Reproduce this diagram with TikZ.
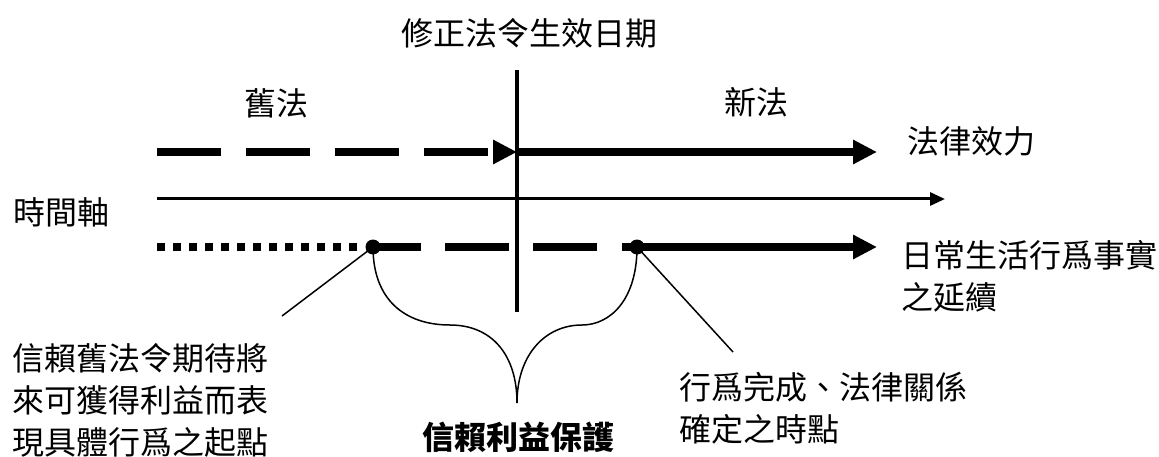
\documentclass[tikz,border=0pt]{standalone}
\usepackage{fontspec}
\newfontfamily\cjk{Noto Sans CJK TC}
\usetikzlibrary{arrows.meta}
\begin{document}
\begin{tikzpicture}[x=1pt,y=-1pt,
  lbl/.style={font=\cjk\fontsize{32}{42}\selectfont, inner sep=0pt},
  heavy/.style={line width=8pt},
  thinline/.style={line width=1.5pt},
  bigtip/.style={-{Triangle[length=24pt,width=23pt]}},
  dotnode/.style={circle, fill=black, inner sep=0pt, minimum size=15pt},
]
\useasboundingbox (0,0) rectangle (1159,457);
% coordinates
\coordinate (tl) at (157,152);
\coordinate (tm) at (517,152);
\coordinate (tr) at (877,152);
\coordinate (al) at (157,199);
\coordinate (ar) at (945,199);
\coordinate (vt) at (517,70);
\coordinate (vb) at (517,312);
\coordinate (bl) at (157,247);
\coordinate (bd) at (358,247);
\coordinate (bs) at (622,247);
\coordinate (br) at (877,247);
\coordinate (cusp) at (517,403);
\coordinate (lh) at (450,325);
\coordinate (rh) at (582,325);
\coordinate (ll) at (282,316);
\coordinate (rl) at (733,352);
\node[dotnode] (p1) at (373,247) {};
\node[dotnode] (p2) at (637,247) {};
% top law-effect line
\draw[heavy, bigtip, dash pattern=on 64pt off 25pt] (tl) -- (tm);
\draw[heavy, bigtip] (tm) -- (tr);
% time axis
\draw[line width=3pt, -{Triangle[length=15pt,width=13pt]}] (al) -- (ar);
% vertical line
\draw[line width=3.5pt] (vt) -- (vb);
% bottom line
\draw[heavy, dash pattern=on 7.7pt off 8.3pt] (bl) -- (bd);
\draw[heavy, dash pattern=on 48pt off 24pt on 64pt off 24pt on 64pt off 100pt] (p1.center) -- (bs);
\draw[heavy, bigtip] (bs) -- (br);
% brace
\draw[thinline] (p1.center) .. controls (373,300) and (405,325) .. (lh)
  .. controls (492,325) and (517,355) .. (cusp);
\draw[thinline] (p2.center) .. controls (637,300) and (610,325) .. (rh)
  .. controls (545,325) and (517,355) .. (cusp);
% leaders
\draw[thinline] (p1.center) -- (ll);
\draw[thinline] (p2.center) -- (rl);
% texts
\node[lbl] (title) at (529,33) {修正法令生效日期};
\node[lbl] (old) at (276,103) {舊法};
\node[lbl] (new) at (756,102) {新法};
\node[lbl] (eff) at (971,141) {法律效力};
\node[lbl] (axis) at (61,212) {時間軸};
\node[lbl, anchor=west, align=left] (daily) at (901,276) {日常生活行爲事實\\之延續};
\node[lbl, anchor=west, align=left] (start) at (12,400) {信賴舊法令期待將\\來可獲得利益而表\\現具體行爲之起點};
\node[lbl, anchor=west, align=left] (done) at (679,408) {行爲完成、法律關係\\確定之時點};
\node[lbl, font=\cjk\bfseries\fontsize{32}{42}\selectfont] (prot) at (518,437) {信賴利益保護};
\end{tikzpicture}
\end{document}
